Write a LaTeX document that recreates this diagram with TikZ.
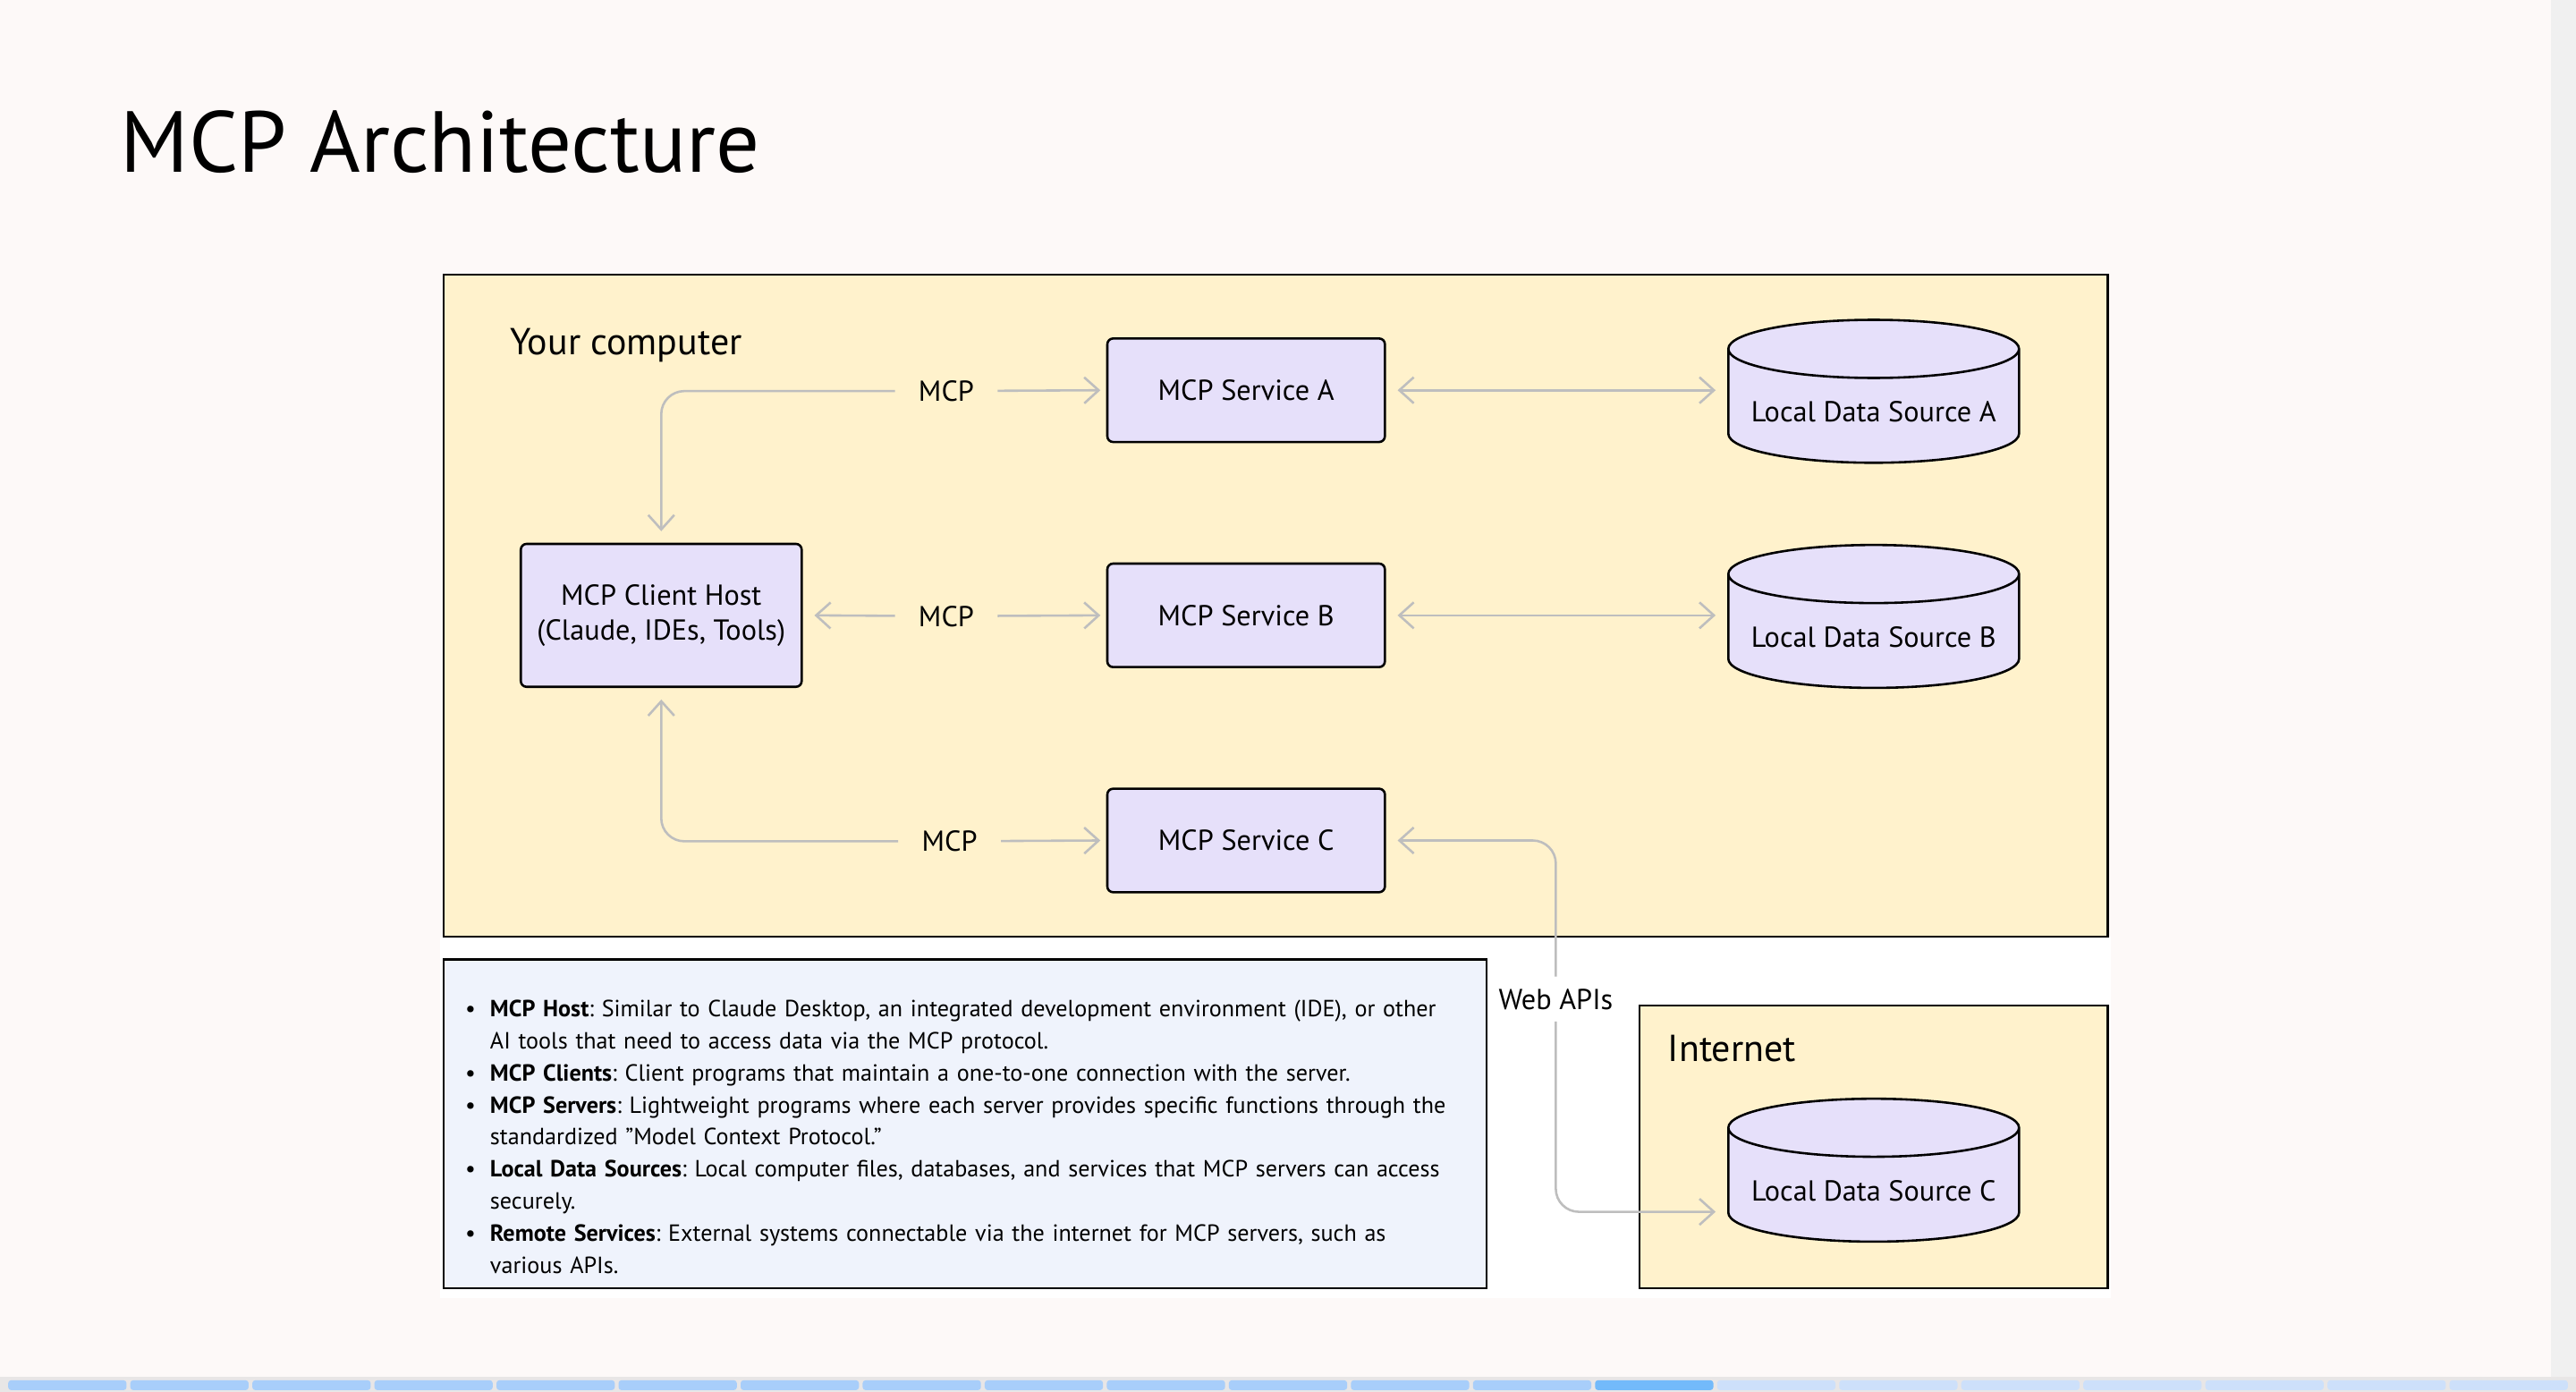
\documentclass[tikz,border=0pt]{standalone}
\usepackage{fontspec}
\setmainfont{PT Sans}
\usepackage{enumitem}
\usetikzlibrary{shapes.geometric,arrows.meta}
\definecolor{pagebg}{RGB}{253,249,248}
\definecolor{boxyellow}{RGB}{255,242,204}
\definecolor{boxlilac}{RGB}{230,224,250}
\definecolor{notesbg}{RGB}{239,243,252}
\definecolor{linkgray}{RGB}{190,190,190}
\definecolor{barbg}{RGB}{232,230,230}
\definecolor{segdone}{RGB}{168,206,250}
\definecolor{segnow}{RGB}{115,186,250}
\definecolor{segtodo}{RGB}{205,224,250}
\tikzset{
    service/.style={draw, thick, rounded corners=2pt, fill=boxlilac,
        minimum width=3.38cm, minimum height=1.26cm, font=\fontsize{10}{12}\selectfont},
    store/.style={draw, thick, cylinder, shape border rotate=90, aspect=0.22,
        fill=boxlilac, minimum width=3.54cm, minimum height=1.74cm,
        font=\fontsize{10}{12}\selectfont},
    link/.style={draw=linkgray, thick, -{Straight Barb[length=5pt,width=9pt]}},
    both/.style={link, {Straight Barb[length=5pt,width=9pt]}-{Straight Barb[length=5pt,width=9pt]}},
    tag/.style={font=\fontsize{10}{12}\selectfont, inner sep=8pt}
}
\begin{document}
\begin{tikzpicture}[x=0.02cm, y=-0.02cm]
        \useasboundingbox (0,0) rectangle (1568,847);
        \fill[pagebg] (0,0) rectangle (1568,847);
        % scroll bar and slide strip
        \fill[black!6] (1553,0) rectangle (1568,838);
        \fill[barbg] (0,838) rectangle (1568,847);
        \foreach \i in {0,...,20} {
            \pgfmathsetmacro{\segx}{5+\i*74.3}
            \ifnum\i<13 \def\segc{segdone}\else\ifnum\i=13 \def\segc{segnow}\else\def\segc{segtodo}\fi\fi
            \fill[\segc, rounded corners=1pt] (\segx,840) rectangle ++(72,6);
        }
        \node[anchor=base west, inner sep=0, font=\fontsize{30}{36}\selectfont] (title) at (73,105) {MCP Architecture};
        % frames
        \fill[white] (268,570) rectangle (1285,790);
        \node[draw, thick, fill=boxyellow, minimum width=20.26cm, minimum height=8.06cm] (computer) at (776.5,368.5) {};
        \node[anchor=base west, inner sep=0, font=\fontsize{13}{16}\selectfont] (computerLabel) at (310,216) {Your computer};
        \node[draw, thick, fill=boxyellow, minimum width=5.7cm, minimum height=3.44cm] (internet) at (1140.5,698) {};
        \node[anchor=base west, inner sep=0, font=\fontsize{13}{16}\selectfont] (internetLabel) at (1015,646) {Internet};
        \node[draw, thick, fill=notesbg, minimum width=12.7cm, minimum height=4cm] (notes) at (587.5,684) {};
        \node[anchor=north west, inner sep=0, text width=12.1cm, font=\fontsize{8.1}{11.1}\selectfont\frenchspacing] (notesText) at (281,599) {
            \begin{itemize}[leftmargin=0.34cm, itemsep=0pt, topsep=0pt, parsep=0pt, label=\textbullet]
                \item \textbf{MCP Host}: Similar to Claude Desktop, an integrated development environment (IDE), or other AI tools that need to access data via the MCP protocol.
                \item \textbf{MCP Clients}: Client programs that maintain a one-to-one connection with the server.
                \item \textbf{MCP Servers}: Lightweight programs where each server provides specific functions through the standardized "Model Context Protocol."
                \item \textbf{Local Data Sources}: Local computer files, databases, and services that MCP servers can access securely.
                \item \textbf{Remote Services}: External systems connectable via the internet for MCP servers, such as various APIs.
            \end{itemize}
        };
        % nodes
        \node[service, minimum width=3.42cm, minimum height=1.74cm, align=center] (host) at (402.5,374.5) {MCP Client Host\\(Claude, IDEs, Tools)};
        \node[service] (svcA) at (758.5,237.5) {MCP Service A};
        \node[service] (svcB) at (758.5,374.5) {MCP Service B};
        \node[service] (svcC) at (758.5,511.5) {MCP Service C};
        \node[store] (dsA) at (1140.5,250.5) {Local Data Source A};
        \node[store] (dsB) at (1140.5,387.5) {Local Data Source B};
        \node[store] (dsC) at (1140.5,724.5) {Local Data Source C};
        \node[tag] (mcpA) at (576,238) {MCP};
        \node[tag] (mcpB) at (576,375) {MCP};
        \node[tag] (mcpC) at (578,512) {MCP};
        \node[tag, inner sep=4pt] (web) at (947,608) {Web APIs};
        % connectors
        \draw[link] (mcpA) -- ([xshift=-2pt]svcA.west);
        \draw[link, rounded corners=8pt] (mcpA) -| ([yshift=4pt]host.north);
        \draw[link] (mcpB) -- ([xshift=-2pt]svcB.west);
        \draw[link] (mcpB) -- ([xshift=4pt]host.east);
        \draw[link] (mcpC) -- ([xshift=-2pt]svcC.west);
        \draw[link, rounded corners=8pt] (mcpC) -| ([yshift=-4pt]host.south);
        \draw[both] ([xshift=4pt]svcA.east) -- ([xshift=-4pt]dsA.west |- svcA.east);
        \draw[both] ([xshift=4pt]svcB.east) -- ([xshift=-4pt]dsB.west |- svcB.east);
        \draw[link, rounded corners=8pt] (web) |- ([xshift=4pt]svcC.east);
        \draw[link, rounded corners=8pt] (web) |- ([xshift=-4pt,yshift=-13*0.02cm]dsC.west);
\end{tikzpicture}
\end{document}
